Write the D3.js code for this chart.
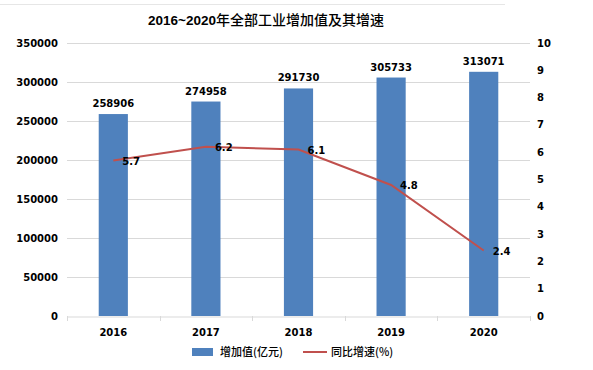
<!DOCTYPE html>
<html><head><meta charset="utf-8">
<script src="https://cdn.jsdelivr.net/npm/d3@7"></script>
<style>body{margin:0;background:#fff}svg{display:block}</style>
</head><body>
<svg id="c" width="593" height="370"></svg>
<script>
const years = ["2016","2017","2018","2019","2020"];
const addedValue = [258906, 274958, 291730, 305733, 313071];
const growthRate = [5.7, 6.2, 6.1, 4.8, 2.4];
const leftTicks = [0,50000,100000,150000,200000,250000,300000,350000];
const rightTicks = [0,1,2,3,4,5,6,7,8,9,10];
const titleText = "2016~2020年全部工业增加值及其增速";
const legendLabels = ["增加值(亿元)", "同比增速(%)"];

const svg = d3.select("#c");
const m = {l:67, r:530, t:43, b:316};
const numFont = "'DejaVu Sans', sans-serif";
const cjk = "'Noto Sans CJK SC', sans-serif";
const barColor = "#4F81BD", lineColor = "#C0504D";

svg.append("line").attr("x1",0).attr("x2",505).attr("y1",4.5).attr("y2",4.5).attr("stroke","#e6e6e6");

const x = d3.scaleBand().domain(years).range([m.l, m.r]).paddingInner(0).paddingOuter(0);
const yL = d3.scaleLinear().domain([0,350000]).range([m.b, m.t]);
const yR = d3.scaleLinear().domain([0,10]).range([m.b, m.t]);

// gridlines
svg.append("g").selectAll("line").data(leftTicks.filter(d=>d>0)).join("line")
  .attr("x1",m.l).attr("x2",m.r).attr("y1",d=>Math.round(yL(d))+0.5).attr("y2",d=>Math.round(yL(d))+0.5)
  .attr("stroke","#d9d9d9").attr("stroke-width",1);

// left axis labels
svg.append("g").selectAll("text").data(leftTicks).join("text")
  .attr("x",58).attr("y",d=>yL(d)).attr("dy","0.35em").attr("text-anchor","end")
  .attr("font-family",numFont).attr("font-weight","bold").attr("font-size",10).attr("fill","#000")
  .text(d=>d);

// right axis labels
svg.append("g").selectAll("text").data(rightTicks).join("text")
  .attr("x",537).attr("y",d=>yR(d)).attr("dy","0.35em").attr("text-anchor","start")
  .attr("font-family",numFont).attr("font-weight","bold").attr("font-size",10).attr("fill","#000")
  .text(d=>d);

// bars
const bw = x.bandwidth()*0.315;
svg.append("g").selectAll("rect").data(addedValue).join("rect")
  .attr("x",(d,i)=>x(years[i])+x.bandwidth()/2-bw/2).attr("width",bw)
  .attr("y",d=>yL(d)).attr("height",d=>m.b-yL(d)).attr("fill",barColor);

// bar labels
svg.append("g").selectAll("text").data(addedValue).join("text")
  .attr("x",(d,i)=>x(years[i])+x.bandwidth()/2).attr("y",d=>yL(d)-7)
  .attr("text-anchor","middle").attr("font-family",numFont).attr("font-weight","bold").attr("font-size",10)
  .text(d=>d);

// x axis
const xa = svg.append("g").attr("transform",`translate(0,${m.b+0.5})`)
  .call(d3.axisBottom(x).tickSize(0).tickFormat(""));
xa.select(".domain").attr("stroke","#d9d9d9");
svg.append("g").selectAll("line").data(years.map(y=>x(y)).concat([m.r])).join("line")
  .attr("x1",d=>Math.round(d)+0.5).attr("x2",d=>Math.round(d)+0.5).attr("y1",m.b).attr("y2",m.b+5)
  .attr("stroke","#d9d9d9");
svg.append("g").selectAll("text").data(years).join("text")
  .attr("x",d=>x(d)+x.bandwidth()/2).attr("y",332).attr("dy","0.35em").attr("text-anchor","middle")
  .attr("font-family",numFont).attr("font-weight","bold").attr("font-size",10).text(d=>d);

// line
const line = d3.line().x((d,i)=>x(years[i])+x.bandwidth()/2).y(d=>yR(d));
svg.append("path").datum(growthRate).attr("d",line).attr("fill","none")
  .attr("stroke",lineColor).attr("stroke-width",2);
svg.append("g").selectAll("text").data(growthRate).join("text")
  .attr("x",(d,i)=>x(years[i])+x.bandwidth()/2+9).attr("y",d=>yR(d)+1).attr("dy","0.35em")
  .attr("font-family",numFont).attr("font-weight","bold").attr("font-size",10).text(d=>d.toFixed(1));

// title
const t = svg.append("text").attr("x",264).attr("y",25).attr("text-anchor","middle").attr("font-size",14);
t.append("tspan").attr("font-family","'Liberation Sans', Arial, sans-serif").attr("font-weight","bold").attr("font-size",13.5).text("2016~2020");
t.append("tspan").attr("font-family",cjk).attr("font-weight",500).text(titleText.slice(9));
t.attr("x",null).attr("text-anchor","start").attr("x",148);

// legend
svg.append("rect").attr("x",192).attr("y",348).attr("width",21).attr("height",8).attr("fill",barColor);
svg.append("text").attr("x",220).attr("y",352).attr("dy","0.35em").attr("font-family",cjk).attr("font-weight",500).attr("font-size",11).text(legendLabels[0]);
svg.append("line").attr("x1",303).attr("x2",327).attr("y1",352).attr("y2",352).attr("stroke",lineColor).attr("stroke-width",2);
svg.append("text").attr("x",331).attr("y",352).attr("dy","0.35em").attr("font-family",cjk).attr("font-weight",500).attr("font-size",11).text(legendLabels[1]);
</script>
</body></html>
